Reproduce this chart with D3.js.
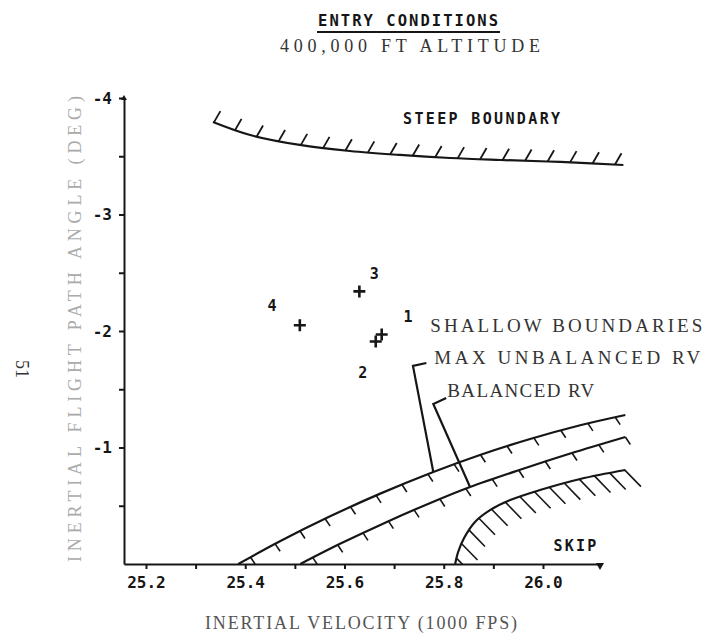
<!DOCTYPE html>
<html><head><meta charset="utf-8">
<script src="https://cdn.jsdelivr.net/npm/d3@7"></script>
<style>body{margin:0;background:#fff}</style>
</head><body>
<svg id="c" width="706" height="641"></svg>
<script>
// ---------- data ----------
const xTickValues = [25.2, 25.3, 25.4, 25.5, 25.6, 25.7, 25.8, 25.9, 26.0];
const xTickLabels = {"25.2": "25.2", "25.4": "25.4", "25.6": "25.6", "25.8": "25.8", "26": "26.0"};
const yTickValues = [-0.5, -1, -1.5, -2, -2.5, -3, -3.5, -4];
const yTickLabels = {"-1": "-1", "-2": "-2", "-3": "-3", "-4": "-4"};

const pointIds    = ["1", "2", "3", "4"];
const pointVel    = [25.675, 25.663, 25.630, 25.510];
const pointGamma  = [-1.97, -1.91, -2.34, -2.05];
const pointLabelVel   = [25.728, 25.637, 25.660, 25.454];
const pointLabelGamma = [-2.077, -1.597, -2.446, -2.172];

const steepVel   = [25.335, 25.410, 25.510, 25.611, 25.712, 25.813, 25.914, 26.035, 26.162];
const steepGamma = [-3.794, -3.682, -3.597, -3.545, -3.511, -3.485, -3.468, -3.451, -3.425];

const maxUnbVel   = [25.386, 25.470, 25.571, 25.672, 25.779, 25.873, 25.974, 26.075, 26.166];
const maxUnbGamma = [0.0, -0.195, -0.409, -0.604, -0.790, -0.936, -1.073, -1.191, -1.279];

const balVel   = [25.511, 25.591, 25.682, 25.773, 25.853, 25.954, 26.055, 26.166];
const balGamma = [0.0, -0.173, -0.355, -0.524, -0.661, -0.809, -0.948, -1.090];

const skipVel   = [25.823, 25.829, 25.841, 25.863, 25.894, 25.934, 25.994, 26.075, 26.166];
const skipGamma = [0.0, -0.103, -0.223, -0.361, -0.464, -0.549, -0.635, -0.730, -0.807];

const leaderMaxVel   = [25.765, 25.738, 25.779];
const leaderMaxGamma = [-1.725, -1.700, -0.790];
const leaderBalVel   = [25.805, 25.779, 25.853];
const leaderBalGamma = [-1.425, -1.373, -0.661];

const annoText  = ["STEEP BOUNDARY", "SHALLOW BOUNDARIES", "MAX UNBALANCED RV", "BALANCED RV", "SKIP"];
const annoVel   = [25.718, 25.773, 25.781, 25.807, 26.021];
const annoGamma = [-3.777, -1.991, -1.717, -1.433, -0.112];

// ---------- scales ----------
const svg = d3.select("#c");
const x = d3.scaleLinear().domain([25.1557, 26.1149]).range([124, 600]);
const y = d3.scaleLinear().domain([0, -4]).range([564, 98]);

const ink = "#161616";
const mono = "'DejaVu Sans Mono', monospace";
const serif = "'Liberation Serif', 'DejaVu Serif', serif";

// ---------- titles ----------
svg.append("text").attr("x", 408).attr("y", 26).attr("text-anchor", "middle")
  .attr("font-family", mono).attr("font-weight", "bold").attr("font-size", 15.5)
  .attr("textLength", 180).attr("lengthAdjust", "spacing")
  .attr("fill", ink).text("ENTRY CONDITIONS");
svg.append("line").attr("x1", 317).attr("x2", 500).attr("y1", 32).attr("y2", 32)
  .attr("stroke", ink).attr("stroke-width", 2);
svg.append("text").attr("x", 410).attr("y", 52).attr("text-anchor", "middle")
  .attr("font-family", serif).attr("font-size", 18)
  .attr("textLength", 260).attr("lengthAdjust", "spacing")
  .attr("fill", "#333").text("400,000 FT ALTITUDE");

// axis titles
svg.append("text").attr("x", 361).attr("y", 629).attr("text-anchor", "middle")
  .attr("font-family", serif).attr("font-size", 18)
  .attr("textLength", 312).attr("lengthAdjust", "spacing")
  .attr("fill", "#555").text("INERTIAL VELOCITY (1000 FPS)");
svg.append("text").attr("transform", "translate(81,329) rotate(-90)").attr("text-anchor", "middle")
  .attr("font-family", serif).attr("font-size", 18)
  .attr("textLength", 466).attr("lengthAdjust", "spacing")
  .attr("fill", "#aaa").text("INERTIAL FLIGHT PATH ANGLE (DEG)");
svg.append("text").attr("transform", "translate(16,369) rotate(90)").attr("text-anchor", "middle")
  .attr("font-family", serif).attr("font-size", 18)
  .attr("fill", "#333").text("51");

// ---------- axes ----------
const xAxis = d3.axisBottom(x).tickValues(xTickValues)
  .tickFormat(d => xTickLabels[String(+d.toFixed(1))] || "")
  .tickSizeInner(5).tickSizeOuter(0).tickPadding(8);
const gx = svg.append("g").attr("transform", `translate(0,${y(0)})`).call(xAxis);
const yAxis = d3.axisLeft(y).tickValues(yTickValues)
  .tickFormat(d => yTickLabels[String(d)] || "")
  .tickSizeInner(5).tickSizeOuter(0).tickPadding(7);
const gy = svg.append("g").attr("transform", `translate(${x.range()[0]},0)`).call(yAxis);
[gx, gy].forEach(g => {
  g.select(".domain").attr("stroke", ink).attr("stroke-width", 2);
  g.selectAll(".tick line").attr("stroke", ink).attr("stroke-width", 2);
  g.selectAll(".tick text").attr("font-family", mono).attr("font-weight", "bold")
    .attr("font-size", 16).attr("fill", ink);
});
// small arrow mark at the end of x axis
const xEnd = x.range()[1];
svg.append("path").attr("d", `M${xEnd - 4},${y(0) - 1}L${xEnd + 4},${y(0) - 1}L${xEnd},${y(0) + 6}Z`)
  .attr("fill", ink);
// small mark on top of y axis
svg.append("path").attr("d", `M${x.range()[0] - 3},${y(-4) + 2}L${x.range()[0] + 3},${y(-4) + 2}L${x.range()[0]},${y(-4) - 3}Z`)
  .attr("fill", ink);

// ---------- boundaries ----------
svg.append("clipPath").attr("id", "clip").append("rect")
  .attr("x", x.range()[0]).attr("y", 0).attr("width", 706).attr("height", y(0));
const plot = svg.append("g").attr("clip-path", "url(#clip)");

const line = d3.line().x(d => x(d[0])).y(d => y(d[1])).curve(d3.curveCatmullRom.alpha(0.5));
function curve(vs, gs) {
  return plot.append("path").datum(vs.map((v, i) => [v, gs[i]]))
    .attr("d", line).attr("fill", "none").attr("stroke", ink).attr("stroke-width", 2.2);
}
function hatches(path, spacing, offset, len, dx, dy, w) {
  const node = path.node(); const L = node.getTotalLength();
  const pts = [];
  for (let s = offset; s <= L + 0.5; s += spacing) pts.push(node.getPointAtLength(Math.min(s, L)));
  plot.append("g").selectAll("line").data(pts).join("line")
    .attr("x1", p => p.x).attr("y1", p => p.y)
    .attr("x2", p => p.x + dx * len).attr("y2", p => p.y + dy * len)
    .attr("stroke", ink).attr("stroke-width", w);
}
const steep = curve(steepVel, steepGamma);
hatches(steep, 22.5, 1, 13, 0.5, -0.866, 1.8);
const maxU = curve(maxUnbVel, maxUnbGamma);
hatches(maxU, 28, 14, 9, 0.55, 0.83, 1.6);
const bal = curve(balVel, balGamma);
hatches(bal, 28, 14, 9, 0.55, 0.83, 1.6);
const skip = curve(skipVel, skipGamma);
hatches(skip, 15.5, 6, 23, 0.7, 0.72, 1.6);

// leaders
const lineStraight = d3.line().x(d => x(d[0])).y(d => y(d[1]));
[[leaderMaxVel, leaderMaxGamma], [leaderBalVel, leaderBalGamma]].forEach(([vs, gs]) => {
  svg.append("path").datum(vs.map((v, i) => [v, gs[i]])).attr("d", lineStraight)
    .attr("fill", "none").attr("stroke", ink).attr("stroke-width", 2.2);
});

// annotation labels
const annoWidth = {"STEEP BOUNDARY": 157, "SHALLOW BOUNDARIES": 272, "MAX UNBALANCED RV": 266, "BALANCED RV": 147, "SKIP": 43};
annoText.forEach((t, i) => {
  const isMono = (t === "STEEP BOUNDARY" || t === "SKIP");
  svg.append("text").attr("x", x(annoVel[i])).attr("y", y(annoGamma[i]))
    .attr("font-family", isMono ? mono : serif)
    .attr("font-weight", isMono ? "bold" : "normal")
    .attr("font-size", isMono ? 15 : 19)
    .attr("textLength", annoWidth[t]).attr("lengthAdjust", "spacing")
    .attr("fill", isMono ? ink : "#333").text(t);
});

// ---------- points ----------
const pts = pointIds.map((id, i) => ({id, v: pointVel[i], g: pointGamma[i], lv: pointLabelVel[i], lg: pointLabelGamma[i]}));
const arm = 6;
svg.append("g").selectAll("path").data(pts).join("path")
  .attr("d", d => `M${x(d.v) - arm},${y(d.g)}H${x(d.v) + arm}M${x(d.v)},${y(d.g) - arm}V${y(d.g) + arm}`)
  .attr("stroke", ink).attr("stroke-width", 2.6);
svg.append("g").selectAll("text").data(pts).join("text")
  .attr("x", d => x(d.lv)).attr("y", d => y(d.lg)).attr("text-anchor", "middle")
  .attr("font-family", mono).attr("font-weight", "bold").attr("font-size", 15)
  .attr("fill", ink).text(d => d.id);
</script>
</body></html>
